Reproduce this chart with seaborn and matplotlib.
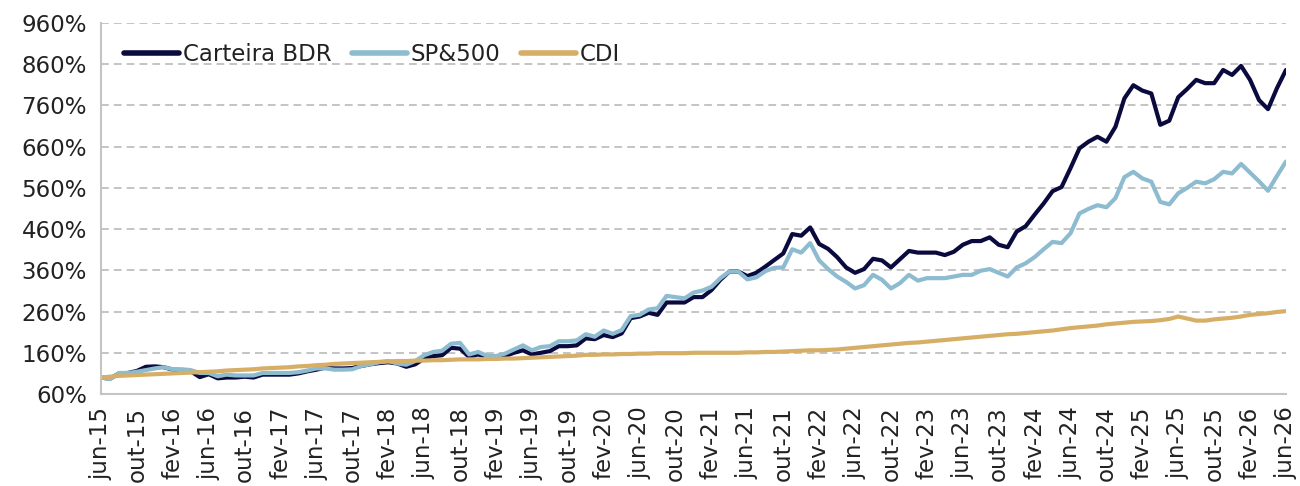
import matplotlib
matplotlib.use("Agg")
import matplotlib.pyplot as plt
import seaborn as sns
import pandas as pd
from matplotlib.ticker import FuncFormatter

sns.set_theme(style="white")
plt.rcParams['font.family'] = ['DejaVu Sans']

month_labels = ["jun-15", "out-15", "fev-16", "jun-16", "out-16", "fev-17", "jun-17", "out-17",
                "fev-18", "jun-18", "out-18", "fev-19", "jun-19", "out-19", "fev-20", "jun-20",
                "out-20", "fev-21", "jun-21", "out-21", "fev-22", "jun-22", "out-22", "fev-23",
                "jun-23", "out-23", "fev-24", "jun-24", "out-24", "fev-25", "jun-25", "out-25",
                "fev-26", "jun-26"]

carteira_bdr = [100, 97, 110, 111, 116, 126, 127, 125, 119, 118,
                115, 101, 108, 98, 100, 100, 102, 100, 107, 107,
                107, 107, 110, 115, 119, 124, 122, 122, 123, 128,
                132, 135, 137, 134, 126, 132, 146, 152, 154, 172,
                170, 150, 156, 150, 150, 152, 160, 166, 156, 160,
                164, 176, 176, 178, 195, 193, 203, 198, 207, 244,
                248, 257, 252, 282, 282, 282, 295, 295, 312, 337,
                357, 357, 346, 354, 369, 385, 401, 448, 444, 464,
                424, 412, 392, 367, 354, 363, 388, 384, 367, 387,
                407, 403, 403, 403, 397, 405, 422, 431, 431, 440,
                422, 416, 454, 467, 495, 522, 552, 562, 608, 656,
                672, 684, 672, 708, 777, 809, 796, 789, 713, 723,
                780, 800, 822, 814, 814, 846, 834, 856, 822, 773,
                751, 802, 846]

sp500 = [100, 96, 111, 111, 114, 118, 122, 125, 120, 120,
         118, 111, 111, 103, 107, 105, 105, 105, 111, 111,
         111, 111, 113, 117, 122, 122, 119, 119, 120, 128,
         132, 137, 140, 134, 131, 140, 154, 162, 165, 182,
         184, 156, 162, 153, 152, 158, 168, 178, 166, 174,
         176, 188, 188, 190, 205, 199, 214, 206, 215, 249,
         252, 265, 268, 298, 295, 292, 306, 311, 320, 341,
         357, 357, 338, 343, 358, 366, 367, 411, 403, 426,
         384, 363, 345, 332, 316, 324, 349, 337, 316, 329,
         349, 335, 341, 341, 341, 345, 349, 349, 359, 363,
         354, 345, 367, 377, 392, 411, 429, 426, 450, 498,
         509, 518, 513, 535, 586, 599, 583, 575, 526, 520,
         547, 560, 575, 571, 581, 599, 595, 618, 597, 576,
         553, 589, 624]

cdi = [100, 102, 104, 105, 106, 107, 108, 109, 110, 111,
       112, 113, 114, 115, 117, 118, 119, 120, 122, 123,
       124, 125, 127, 128, 130, 131, 133, 134, 135, 136,
       137, 138, 139, 140, 140, 141, 141, 142, 142, 143,
       144, 144, 144, 145, 145, 146, 146, 147, 148, 149,
       150, 151, 152, 153, 155, 155, 156, 156, 157, 157,
       158, 158, 159, 159, 159, 159, 160, 160, 160, 160,
       160, 160, 161, 161, 162, 162, 163, 164, 165, 166,
       166, 167, 168, 170, 172, 174, 176, 178, 180, 182,
       184, 185, 187, 189, 191, 193, 195, 197, 199, 201,
       203, 205, 206, 208, 210, 212, 214, 217, 220, 222,
       224, 226, 229, 231, 233, 235, 236, 237, 239, 242,
       248, 243, 238, 238, 241, 243, 245, 248, 252, 254,
       256, 259, 261]

series_names = ["Carteira BDR", "SP&500", "CDI"]
colors = ["#0A0A3F", "#8DBBD0", "#D6AE66"]

n = len(carteira_bdr)
df = pd.concat([
    pd.DataFrame({"mes": range(n), "valor": vals, "serie": name})
    for name, vals in zip(series_names, [carteira_bdr, sp500, cdi])
], ignore_index=True)

fig = plt.figure(figsize=(13, 4.86), dpi=100)
ax = fig.add_axes([0.0777, 0.1893, 0.9115, 0.7634])

sns.lineplot(data=df, x="mes", y="valor", hue="serie", hue_order=series_names,
             palette=dict(zip(series_names, colors)), linewidth=3.0, ax=ax,
             legend=True)

ax.set_xlim(0, n - 1)
ax.set_ylim(60, 960)
ax.set_yticks(range(60, 961, 100))
ax.yaxis.set_major_formatter(FuncFormatter(lambda v, p: f"{v:.0f}%"))
ax.set_xticks(range(0, n, 4))
ax.set_xticklabels(month_labels, rotation=90)
ax.set_xlabel("")
ax.set_ylabel("")

grid_c = "#C4C4C4"
ax.yaxis.grid(True, color=grid_c, linestyle=(0, (4, 2.6)), linewidth=1.4)
ax.xaxis.grid(False)
ax.set_axisbelow(True)
for s in ["top", "right"]:
    ax.spines[s].set_visible(False)
for s in ["left", "bottom"]:
    ax.spines[s].set_color(grid_c)
    ax.spines[s].set_linewidth(1.5)
ax.tick_params(axis="both", which="both", length=6, width=1.3, color=grid_c,
               labelsize=16.5, labelcolor="#222222", direction="out")
ax.tick_params(axis="y", pad=4)
ax.tick_params(axis="x", pad=3)

leg = ax.legend(loc="upper left", bbox_to_anchor=(0.012, 0.97), ncol=3, frameon=False,
                fontsize=16.5, handlelength=2.4, handletextpad=0.15, columnspacing=0.9,
                borderaxespad=0.0)
for line in leg.get_lines():
    line.set_linewidth(4.0)
for t in leg.get_texts():
    t.set_color("#222222")

fig.savefig("out.png", dpi=100)
